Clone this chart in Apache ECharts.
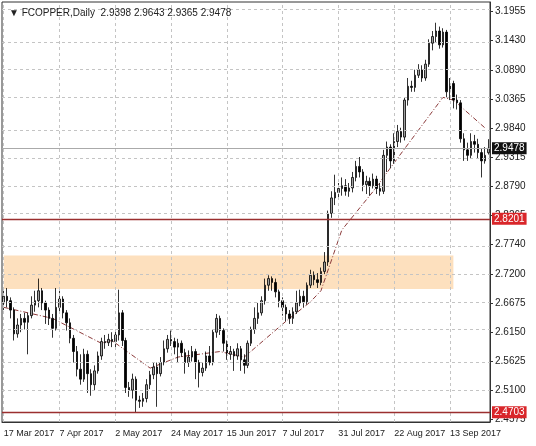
<!DOCTYPE html>
<html>
<head>
<meta charset="UTF-8">
<title>FCOPPER Daily</title>
<script src="https://cdn.jsdelivr.net/npm/echarts@6/dist/echarts.min.js"></script>
<style>
    html, body { margin: 0; padding: 0; background: #fff; }
    #chart { width: 536px; height: 446px; }
</style>
</head>
<body>
<div id="chart"></div>
<script>
// date labels, one every 16 bars
const dateLabels = ['17 Mar 2017', '7 Apr 2017', '2 May 2017', '24 May 2017', '15 Jun 2017',
    '7 Jul 2017', '31 Jul 2017', '22 Aug 2017', '13 Sep 2017'];
const priceTicks = [2.4575, 2.5100, 2.5625, 2.6150, 2.6675, 2.7200, 2.7740, 2.8265, 2.8790,
    2.9315, 2.9840, 3.0365, 3.0890, 3.1430, 3.1955];

// [open, close, low, high]
const ohlc = [
    [2.668,2.680,2.655,2.690],[2.680,2.672,2.660,2.695],[2.672,2.655,2.640,2.678],[2.655,2.612,2.600,2.660],
    [2.612,2.628,2.605,2.640],[2.628,2.640,2.615,2.648],[2.640,2.633,2.620,2.650],[2.633,2.645,2.575,2.650],
    [2.645,2.664,2.640,2.680],[2.664,2.672,2.652,2.690],[2.672,2.690,2.660,2.712],[2.690,2.668,2.655,2.695],
    [2.668,2.655,2.630,2.672],[2.655,2.640,2.628,2.660],[2.640,2.622,2.605,2.648],[2.622,2.660,2.618,2.695],
    [2.660,2.675,2.648,2.690],[2.675,2.650,2.640,2.680],[2.650,2.632,2.618,2.655],[2.632,2.604,2.595,2.640],
    [2.604,2.580,2.560,2.610],[2.580,2.548,2.535,2.590],[2.548,2.530,2.520,2.575],[2.530,2.575,2.525,2.585],
    [2.575,2.540,2.505,2.582],[2.540,2.520,2.500,2.548],[2.520,2.545,2.510,2.555],[2.545,2.572,2.540,2.580],
    [2.572,2.598,2.565,2.605],[2.598,2.596,2.585,2.610],[2.596,2.602,2.590,2.612],[2.602,2.598,2.588,2.615],
    [2.598,2.610,2.585,2.620],[2.610,2.650,2.600,2.692],[2.650,2.600,2.590,2.655],[2.600,2.515,2.505,2.605],
    [2.515,2.510,2.498,2.525],[2.510,2.530,2.495,2.540],[2.530,2.492,2.470,2.535],[2.492,2.490,2.478,2.500],
    [2.490,2.495,2.480,2.505],[2.495,2.520,2.488,2.530],[2.520,2.538,2.512,2.545],[2.538,2.552,2.530,2.560],
    [2.552,2.540,2.480,2.560],[2.540,2.560,2.535,2.570],[2.560,2.585,2.555,2.600],[2.585,2.602,2.578,2.610],
    [2.602,2.598,2.590,2.618],[2.598,2.588,2.575,2.605],[2.588,2.595,2.560,2.603],[2.595,2.578,2.570,2.600],
    [2.578,2.560,2.540,2.585],[2.560,2.570,2.552,2.582],[2.570,2.580,2.562,2.590],[2.580,2.560,2.530,2.585],
    [2.560,2.542,2.515,2.565],[2.542,2.550,2.535,2.560],[2.550,2.572,2.545,2.580],[2.572,2.560,2.555,2.590],
    [2.560,2.615,2.555,2.620],[2.615,2.640,2.605,2.648],[2.640,2.618,2.610,2.645],[2.618,2.595,2.580,2.622],
    [2.595,2.575,2.565,2.600],[2.575,2.580,2.565,2.590],[2.580,2.572,2.545,2.585],[2.572,2.585,2.565,2.595],
    [2.585,2.565,2.545,2.590],[2.565,2.555,2.540,2.575],[2.555,2.595,2.550,2.600],[2.595,2.620,2.590,2.625],
    [2.620,2.640,2.612,2.660],[2.640,2.650,2.630,2.668],[2.650,2.672,2.645,2.680],[2.672,2.700,2.665,2.712],
    [2.700,2.712,2.690,2.718],[2.712,2.705,2.690,2.716],[2.705,2.688,2.678,2.712],[2.688,2.672,2.660,2.692],
    [2.672,2.660,2.645,2.678],[2.660,2.648,2.635,2.665],[2.648,2.640,2.630,2.655],[2.640,2.652,2.630,2.660],
    [2.652,2.668,2.648,2.690],[2.668,2.680,2.662,2.692],[2.680,2.670,2.660,2.690],[2.670,2.700,2.665,2.705],
    [2.700,2.718,2.695,2.728],[2.718,2.710,2.700,2.725],[2.710,2.705,2.695,2.722],[2.705,2.725,2.700,2.732],
    [2.725,2.742,2.720,2.760],[2.742,2.830,2.735,2.835],[2.830,2.858,2.822,2.870],[2.858,2.868,2.845,2.900],
    [2.868,2.875,2.858,2.885],[2.875,2.880,2.862,2.895],[2.880,2.870,2.862,2.892],[2.870,2.876,2.860,2.885],
    [2.876,2.895,2.868,2.905],[2.895,2.915,2.888,2.925],[2.915,2.905,2.895,2.932],[2.905,2.882,2.870,2.910],
    [2.882,2.888,2.865,2.898],[2.888,2.880,2.862,2.895],[2.880,2.892,2.875,2.902],[2.892,2.875,2.865,2.898],
    [2.875,2.870,2.862,2.885],[2.870,2.935,2.865,2.945],[2.935,2.950,2.905,2.960],[2.950,2.925,2.912,2.955],
    [2.925,2.960,2.920,2.975],[2.960,2.978,2.950,2.990],[2.978,2.968,2.958,2.985],[2.968,3.035,2.962,3.040],
    [3.035,3.060,3.025,3.075],[3.060,3.058,3.050,3.070],[3.058,3.080,3.050,3.090],[3.080,3.090,3.075,3.100],
    [3.090,3.075,3.068,3.098],[3.075,3.100,3.070,3.108],[3.100,3.138,3.095,3.145],[3.138,3.150,3.125,3.160],
    [3.150,3.160,3.140,3.175],[3.160,3.135,3.128,3.168],[3.135,3.158,3.130,3.165],[3.158,3.050,3.040,3.162],
    [3.050,3.065,3.035,3.075],[3.065,3.035,3.020,3.070],[3.035,3.030,3.018,3.045],[3.030,2.965,2.958,3.035],
    [2.965,2.945,2.925,2.975],[2.945,2.935,2.925,2.958],[2.935,2.960,2.930,2.975],[2.960,2.955,2.940,2.972],
    [2.955,2.940,2.930,2.965],[2.940,2.925,2.895,2.948],[2.925,2.935,2.920,2.950],[2.9398,2.9478,2.9365,2.9643]
];

// dash-dot trend line: [bar index, price]
const trendPoints = [[0,2.660],[14,2.640],[28,2.595],[31,2.600],[42,2.550],[50,2.570],[62,2.580],
    [69,2.570],[81,2.635],[88,2.670],[91,2.690],[97,2.800],[106,2.870],[113,2.930],[126,3.040],
    [129,3.035],[138,2.985]];

const supportHigh = 2.8201;
const supportLow = 2.4703;
const lastPrice = 2.9478;
const zoneTop = 2.754;
const zoneBottom = 2.693;
const zoneEndBar = 129;

const categories = ohlc.map((d, i) => i % 16 === 0 ? dateLabels[i / 16] : '');

const chart = echarts.init(document.getElementById('chart'));
const gridStyle = { color: '#c4c4c4', type: [3, 3], width: 1 };

const gridLines = priceTicks.slice(1).map(v => ({ yAxis: v }))
    .concat(dateLabels.map((d, k) => ({ xAxis: k * 16 })));

const levelLabel = (bg, text) => ({
    show: true, position: 'end', fontSize: 10, padding: [1, 2], distance: 2,
    backgroundColor: bg, color: '#fff', formatter: text
});

chart.setOption({
    animation: false,
    textStyle: { fontFamily: 'Liberation Sans' },
    title: {
        text: '▼ FCOPPER,Daily  2.9398 2.9643 2.9365 2.9478',
        left: 4, top: 3,
        textStyle: { fontSize: 10, fontWeight: 'normal', color: '#222' }
    },
    grid: { left: 2, right: 46, top: 2, bottom: 24, show: true, borderColor: '#333', borderWidth: 1 },
    xAxis: {
        type: 'category',
        data: categories,
        boundaryGap: true,
        axisLine: { lineStyle: { color: '#333' } },
        axisTick: { show: false },
        axisLabel: {
            interval: 0, hideOverlap: false, showMinLabel: true, showMaxLabel: true,
            align: 'left', color: '#222', fontSize: 9, margin: 7
        },
        splitLine: { show: false }
    },
    yAxis: {
        type: 'value',
        position: 'right',
        min: 2.4525, max: 3.2125,
        axisLine: { show: true, lineStyle: { color: '#333' } },
        axisTick: { show: true, customValues: priceTicks, length: 3 },
        axisLabel: {
            customValues: priceTicks, color: '#222', fontSize: 10, margin: 5,
            formatter: (v) => v.toFixed(4)
        },
        splitLine: { show: false }
    },
    series: [
        {
            type: 'line', data: [], silent: true, z: 0,
            markLine: {
                silent: true, symbol: 'none', label: { show: false },
                lineStyle: gridStyle, data: gridLines
            }
        },
        {
            type: 'candlestick',
            data: ohlc,
            barWidth: 2,
            itemStyle: {
                color: '#a0a0a0', color0: '#000',
                borderColor: '#000', borderColor0: '#000', borderWidth: 0.8
            },
            markArea: {
                silent: true,
                itemStyle: { color: 'rgba(252,214,168,0.75)' },
                data: [[{ xAxis: 0, yAxis: zoneTop }, { xAxis: zoneEndBar, yAxis: zoneBottom }]]
            },
            markLine: {
                silent: true, symbol: 'none', precision: 4,
                data: [
                    { yAxis: supportHigh, lineStyle: { color: '#9b2f2f', width: 1.3, type: 'solid' },
                      label: levelLabel('#d9262a', supportHigh.toFixed(4)) },
                    { yAxis: supportLow, lineStyle: { color: '#9b2f2f', width: 1.3, type: 'solid' },
                      label: levelLabel('#d9262a', supportLow.toFixed(4)) },
                    { yAxis: lastPrice, lineStyle: { color: '#aaa', width: 1, type: 'solid' },
                      label: levelLabel('#111', lastPrice.toFixed(4)) }
                ]
            }
        },
        {
            type: 'line',
            data: trendPoints,
            symbol: 'none',
            z: 1,
            lineStyle: { color: '#8b3a3a', width: 1, type: [5, 2, 1, 2] }
        }
    ]
});
</script>
</body>
</html>
